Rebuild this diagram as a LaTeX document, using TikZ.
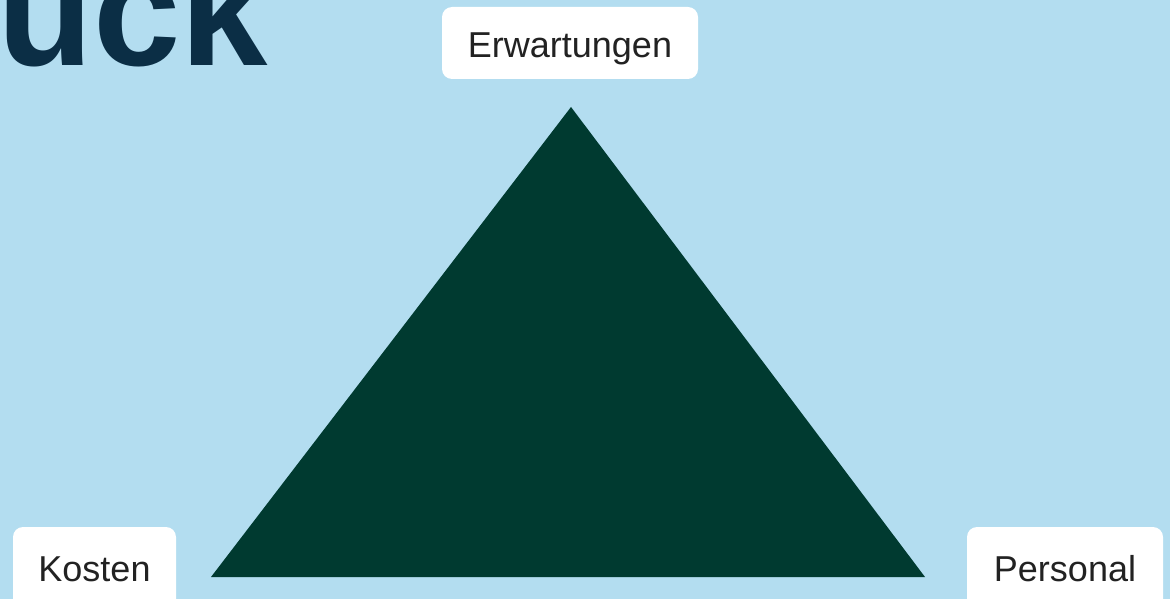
\documentclass[tikz,border=0pt]{standalone}
\usepackage{fontspec}
\setmainfont{Liberation Sans}
\definecolor{bg}{HTML}{B3DDF0}
\definecolor{tri}{HTML}{003A30}
\definecolor{navy}{HTML}{0B2E45}
\definecolor{txt}{HTML}{222222}
\tikzset{
  labelbox/.style={fill=white, rounded corners=10pt, inner sep=0pt, text=txt,
    font=\fontsize{36}{40}\selectfont, align=center},
}
\begin{document}
\begin{tikzpicture}[x=1pt,y=-1pt]
\useasboundingbox (0,0) rectangle (1170,599);
\clip (0,0) rectangle (1170,599);
\fill[bg] (0,0) rectangle (1170,599);
% big cut-off title
\node[anchor=base west, inner sep=0pt, text=navy, font=\fontsize{157}{160}\selectfont\bfseries] (title) at (-3,66) {uck};
% triangle
\coordinate (apex) at (571,107);
\coordinate (bl) at (211,577);
\coordinate (br) at (925,577);
\fill[tri] (apex) -- (bl) -- (br) -- cycle;
% label boxes
\node[labelbox, minimum width=256pt, text height=51pt, text depth=21pt] (erw) at (570,43) {Erwartungen};
\node[labelbox, minimum width=163pt, text height=54pt, text depth=30pt] (kosten) at (94.5,569) {Kosten};
\node[labelbox, minimum width=196pt, text height=54pt, text depth=30pt] (personal) at (1065,569) {Personal};
\end{tikzpicture}
\end{document}
